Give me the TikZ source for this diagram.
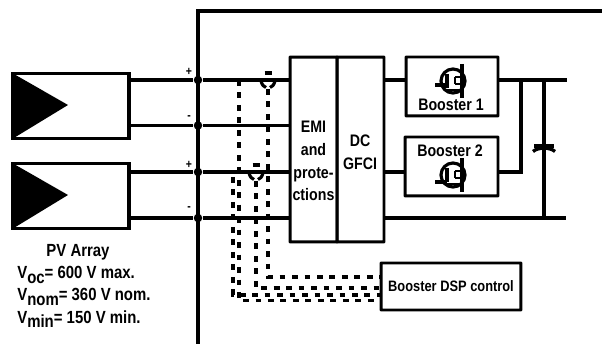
\documentclass[tikz,border=0pt]{standalone}
\usepackage{fontspec}
\setmainfont[FakeStretch=0.85]{Liberation Sans}
\newcommand{\lowtxt}[1]{\raisebox{-2.4pt}{#1}}
\tikzset{
  wire/.style={line width=1.9pt},
  ctrl/.style={line width=2.1pt, dash pattern=on 3.3pt off 3.8pt},
  block/.style={draw, line width=1.7pt, rounded corners=0.3pt, inner sep=0pt, outer sep=0pt, align=center},
  panel/.style={draw, line width=1.8pt, inner sep=0pt, outer sep=0pt, minimum width=2.32cm, minimum height=1.30cm},
  junction/.style={circle, fill, inner sep=0pt, minimum size=0.17cm},
  txt/.style={font=\bfseries\fontsize{9.5}{13}\selectfont, inner sep=0pt, align=center},
  sign/.style={font=\bfseries\fontsize{7}{8}\selectfont, inner sep=0pt},
  pvtxt/.style={font=\bfseries\fontsize{10}{12}\selectfont, inner sep=0pt}
}
\begin{document}
\begin{tikzpicture}[x=0.02cm, y=-0.02cm]
\useasboundingbox (0,0) rectangle (602,344);
% Draw inverter frame
\coordinate (framea) at (602,11);
\coordinate (frameb) at (198,11);
\coordinate (framec) at (198,344);
\draw[line width=2pt] (framea)--(frameb)--(framec);
% Draw PV panels
\node [panel] (pva) at (71,106) {};
\node [panel] (pvb) at (71,196) {};
\fill (pva.north west)--(68,105)--(pva.south west)--cycle;
\fill (pvb.north west)--(68,195)--(pvb.south west)--cycle;
% Draw blocks
\node [block, minimum width=0.94cm, minimum height=3.70cm] (emi) at (313.5,149.5) {};
\node [block, minimum width=0.94cm, minimum height=3.70cm] (gfci) at (360.5,149.5) {};
\node [block, minimum width=1.84cm, minimum height=1.18cm] (boostera) at (452,86.5) {};
\node [block, minimum width=1.86cm, minimum height=1.18cm] (boosterb) at (451.5,166.5) {};
\node [block, minimum width=2.80cm, minimum height=0.94cm, font=\bfseries\fontsize{8.6}{10}\selectfont] (dsp) at (451,286.5) {Booster DSP control};
% Draw bus junctions
\node [junction] (posa) at (198,80) {};
\node [junction] (nega) at (198,125.5) {};
\node [junction] (posb) at (198,172) {};
\node [junction] (negb) at (198,218) {};
\coordinate (outa) at (567,80);
\coordinate (outb) at (566,218);
\coordinate (tapb) at (521,80);
\coordinate (tapc) at (544,80);
\coordinate (tapd) at (544,218);
% Draw wires
\draw[wire] (pva.east |- posa)--(posa)--(emi.west |- posa);
\draw[wire] (pva.east |- nega)--(nega)--(emi.west |- nega);
\draw[wire] (pvb.east |- posb)--(posb)--(emi.west |- posb);
\draw[wire] (pvb.east |- negb)--(negb)--(emi.west |- negb);
\draw[wire] (gfci.east |- posa)--(boostera.west |- posa);
\draw[wire] (gfci.east |- posb)--(boosterb.west |- posb);
\draw[wire] (boostera.east |- posa)--(outa);
\draw[wire] (boosterb.east |- posb)--(tapb |- posb)--(tapb);
\draw[wire] (gfci.east |- negb)--(outb);
\draw[wire] (tapc)--(tapd);
% Draw capacitor plates
\draw[wire] (534,146)--(554,146);
\draw[wire] (533,151.5) .. controls (538,147) and (550,147) .. (555,151.5);
% Draw current sensors
\coordinate (halla) at (268,80);
\coordinate (hallb) at (256,172);
\foreach \hall in {halla,hallb} {
  \draw[line width=2pt] ([shift={(-3.5,-7)}]\hall)--([shift={(3.5,-7)}]\hall);
  \draw[line width=1.8pt] ([shift={(-7,1)}]\hall) .. controls ([shift={(-6,5)}]\hall) and ([shift={(-4,7)}]\hall) .. ([shift={(-2,7.5)}]\hall);
  \draw[line width=1.8pt] ([shift={(7,1)}]\hall) .. controls ([shift={(6,5)}]\hall) and ([shift={(4,7)}]\hall) .. ([shift={(2,7.5)}]\hall);
}
% Draw control lines
\coordinate (sensea) at (239,80);
\coordinate (senseb) at (233,177);
\draw[ctrl] (halla)++(0,9)--(268,277)--(dsp.west |- 0,277);
\draw[ctrl] (hallb)++(0,9)--(256,288)--(dsp.west |- 0,288);
\draw[ctrl] (senseb)--(233,295)--(dsp.west |- 0,295);
\draw[ctrl] (sensea)--(239,300.5)--(dsp.west |- 0,300.5);
% Draw transistors
\foreach \fet/\cy/\st in {feta/81/85, fetb/175/182} {
  \node [circle, draw, line width=1.8pt, inner sep=0pt, minimum size=0.48cm] (\fet) at (453,\cy) {};
  \draw[wire] (462,\cy-17)--(462,\cy+17);
  \draw[wire] (435,\st)--(447,\st);
  \draw[wire] (447,\cy-7)--(447,\cy+7);
  \draw[line width=1.1pt] (455,\cy-4)--(462,\cy-4) (455,\cy+3)--(462,\cy+3) (455,\cy-4)--(455,\cy+3);
  \draw[line width=1.1pt] (445,\cy+9)--(462,\cy+9);
}
% Draw labels
\node [txt] (emilabel) at (313.5,161) {EMI\\and\\prote-\\ctions};
\node [txt] (gfcilabel) at (360,152) {DC\\GFCI};
\node [txt] (boosteralabel) at (451,105) {Booster 1};
\node [txt] (boosterblabel) at (450,151) {Booster 2};
\node [sign] (posalabel) at (189,72) {+};
\node [sign] (negalabel) at (189,118) {-};
\node [sign] (posblabel) at (189,165) {+};
\node [sign] (negblabel) at (189,209) {-};
\node [pvtxt] (pvlabel) at (78,252) {PV Array};
\node [pvtxt, anchor=west] (voclabel) at (17,275) {V\lowtxt{oc}= 600 V max.};
\node [pvtxt, anchor=west] (vnomlabel) at (17,297) {V\lowtxt{nom}= 360 V nom.};
\node [pvtxt, anchor=west] (vminlabel) at (17,319) {V\lowtxt{min}= 150 V min.};
\end{tikzpicture}
\end{document}
